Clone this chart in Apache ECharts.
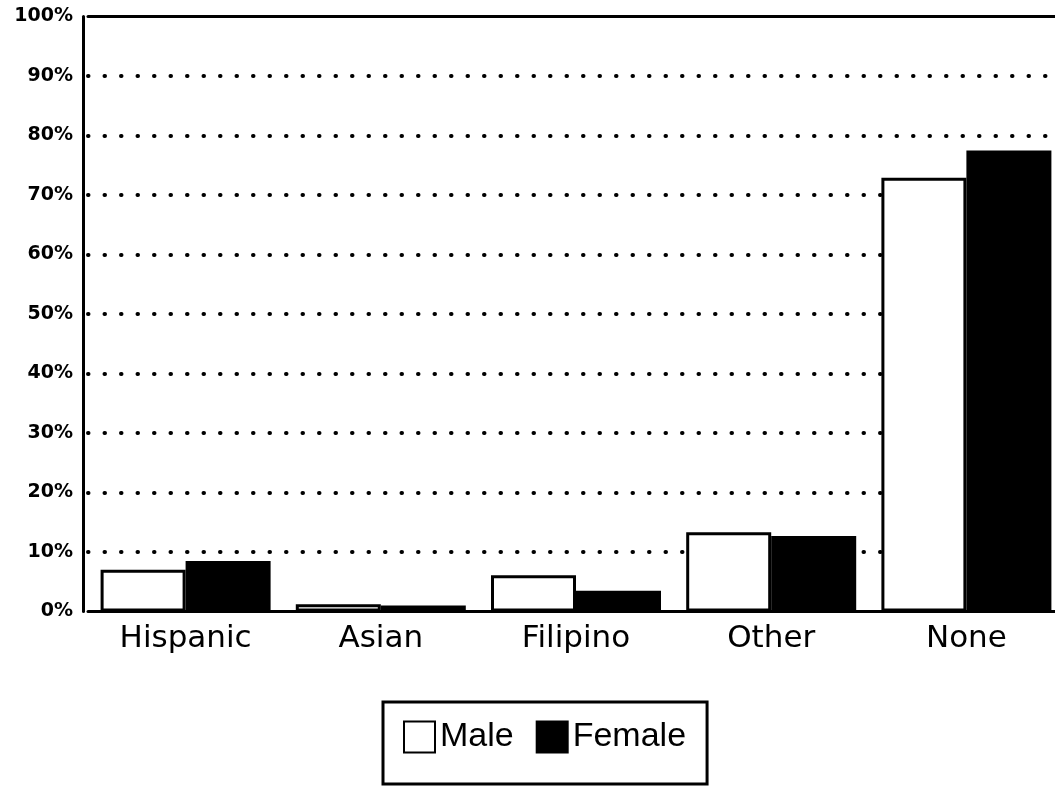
<!DOCTYPE html>
<html>
<head>
<meta charset="utf-8">
<script src="https://cdn.jsdelivr.net/npm/echarts@6/dist/echarts.min.js"></script>
<style>html,body{margin:0;padding:0;background:#fff;overflow:hidden}#c{width:1064px;height:789px}</style>
</head>
<body>
<div id="c"></div>
<script>
const categories = ["Hispanic", "Asian", "Filipino", "Other", "None"];
const male = [7.0, 1.2, 6.1, 13.3, 72.9];
const female = [8.5, 1.0, 3.5, 12.7, 77.5];
const yTicks = [0, 10, 20, 30, 40, 50, 60, 70, 80, 90, 100];

const chart = echarts.init(document.getElementById('c'));
chart.setOption({
  animation: false,
  backgroundColor: '#fff',
  grid: { left: 88, right: 0, top: 16.5, bottom: 177.5 },
  legend: {
    left: 383, top: 702,
    orient: 'horizontal',
    icon: 'rect',
    itemWidth: 31, itemHeight: 31, itemGap: 22,
    padding: [18, 21, 30, 20],
    borderColor: '#000', borderWidth: 3,
    textStyle: { fontFamily: 'Liberation Sans, Arial, sans-serif', fontSize: 34, color: '#000' },
    data: ['Male', 'Female']
  },
  xAxis: [{
    type: 'category',
    data: categories,
    axisLine: { lineStyle: { color: '#000', width: 3 } },
    axisTick: { show: false },
    axisLabel: { fontFamily: 'DejaVu Sans, sans-serif', fontSize: 31, color: '#000', margin: 12 }
  }, {
    type: 'category',
    position: 'top',
    data: categories,
    axisLine: { show: true, lineStyle: { color: '#000', width: 3 } },
    axisTick: { show: false },
    axisLabel: { show: false }
  }],
  yAxis: {
    type: 'value',
    min: 0, max: 100, interval: 10,
    offset: 5,
    axisLine: { show: true, lineStyle: { color: '#000', width: 3 } },
    axisTick: { show: false },
    axisLabel: {
      fontFamily: 'DejaVu Sans, sans-serif', fontWeight: 'bold', fontSize: 19, color: '#000', margin: 10,
      formatter: v => yTicks.includes(v) ? v + '%' : ''
    },
    splitLine: { show: true, showMinLine: false, showMaxLine: false, lineStyle: { color: '#000', width: 4, type: [0.5, 16], cap: 'round' } }
  },
  series: [
    {
      name: 'Male', type: 'bar', data: male, barWidth: 85, barGap: '0%',
      itemStyle: { color: '#fff', borderColor: '#000', borderWidth: 3 }
    },
    {
      name: 'Female', type: 'bar', data: female, barWidth: 85,
      itemStyle: { color: '#000', borderColor: '#000', borderWidth: 2 }
    }
  ]
});
</script>
</body>
</html>
